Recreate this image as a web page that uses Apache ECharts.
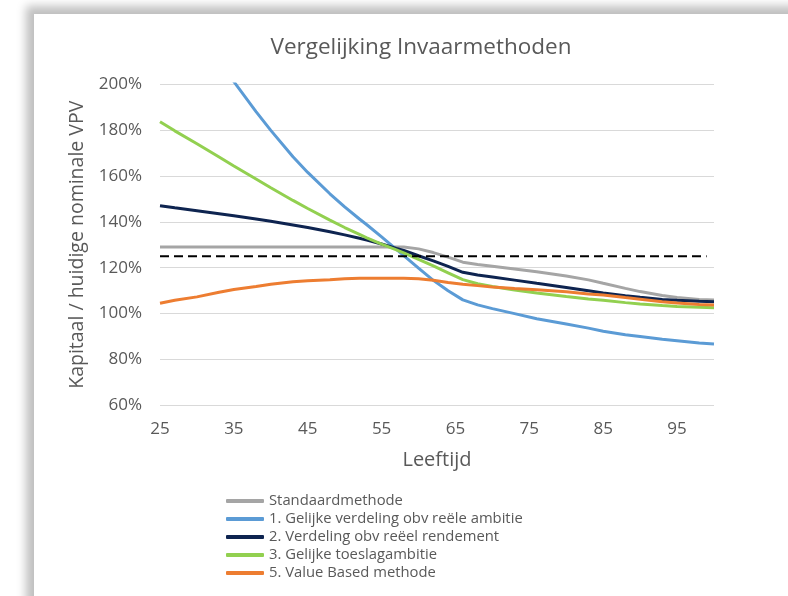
<!DOCTYPE html>
<html>
<head>
<meta charset="utf-8">
<script src="https://cdn.jsdelivr.net/npm/echarts@6/dist/echarts.min.js"></script>
<style>
  html, body { margin:0; padding:0; background:#fff; width:788px; height:596px; overflow:hidden; }
  #card { position:absolute; left:34px; top:14px; width:900px; height:700px; background:#fff;
          box-shadow:-6px -6px 9px 2px rgba(0,0,0,0.25); }
  #chart { position:absolute; left:0; top:0; width:788px; height:596px; }
</style>
</head>
<body>
<div id="card"></div>
<div id="chart"></div>
<script>
// ---- data ----
const ages = [25,27,30,33,35,38,40,43,45,48,50,52,53,55,57,58,60,62,64,66,68,70,73,76,80,83,85,88,90,93,95,98,100];
const seriesNames = [
  "Standaardmethode",
  "1. Gelijke verdeling obv reële ambitie",
  "2. Verdeling obv reëel rendement",
  "3. Gelijke toeslagambitie",
  "5. Value Based methode"
];
const standaard = [129,129,129,129,129,129,129,129,129,129,129,129,129,129,129,129,128.2,126.6,124.6,122.4,121.4,120.6,119.4,118.2,116.4,114.7,113.2,111,109.6,107.9,107,106.2,105.9];
const gelijkeVerdeling = [249,239,224,210,201,188,179.8,168.3,161.5,152.2,146.5,141.2,138.7,133.4,128,125.3,119.8,114.5,110,106,103.8,102.2,100,97.8,95.5,93.7,92.3,90.8,90,88.8,88.2,87.2,86.8];
const verdelingRendement = [147,146.1,144.8,143.5,142.6,141.2,140.2,138.6,137.5,135.7,134.3,132.8,132,130.3,128.4,127.5,125.2,123,120.6,118,116.8,116,114.6,113.2,111.4,110,109,107.8,107.1,106.2,105.8,105.4,105.2];
const toeslagambitie = [183.6,179.6,174,168.2,164.3,158.6,154.8,149.3,145.8,140.7,137.5,134.5,133,130.3,127.8,126.5,123.6,120.8,117.8,114.8,113,111.8,110.3,109,107.5,106.4,105.8,104.8,104.2,103.5,103.1,102.8,102.6];
const valueBased = [104.5,105.8,107.3,109.3,110.5,111.8,112.8,113.9,114.3,114.8,115.2,115.4,115.4,115.4,115.4,115.4,115.2,114.5,113.6,112.8,112.2,111.6,110.9,110.4,109.5,108.6,108.1,107,106.3,105.2,104.6,104,103.8];
const dashAges = [25, 99];
const dashLevel = 125;
const xTickLabels = [25,35,45,55,65,75,85,95];
const yMin = 60, yMax = 200, yStep = 20;
// ---- styles ----
const colors = ["#A5A5A5","#5B9BD5","#0E2450","#92D050","#ED7D31"];
const values = [standaard, gelijkeVerdeling, verdelingRendement, toeslagambitie, valueBased];
const txt = "#595959";
const font = "Open Sans";

const series = values.map((vals, i) => ({
  name: seriesNames[i],
  type: 'line',
  data: ages.map((a, j) => [a, vals[j]]),
  symbol: 'none',
  lineStyle: { color: colors[i], width: 3 },
  itemStyle: { color: colors[i] },
  clip: true,
  z: 2 + i
}));
series.push({
  name: 'dash',
  type: 'line',
  data: dashAges.map(a => [a, dashLevel]),
  symbol: 'none',
  lineStyle: { color: '#000', width: 2, type: [9, 5] },
  z: 10
});

const chart = echarts.init(document.getElementById('chart'), null, { renderer: 'canvas' });
chart.setOption({
  animation: false,
  backgroundColor: 'transparent',
  textStyle: { fontFamily: font },
  title: {
    text: 'Vergelijking Invaarmethoden',
    left: 416, top: 31, textAlign: 'center',
    textStyle: { color: txt, fontSize: 22.5, fontWeight: 'normal', fontFamily: font }
  },
  grid: { left: 160, top: 84, width: 554, height: 321.5, containLabel: false },
  xAxis: {
    type: 'value', min: 25, max: 100,
    name: 'Leeftijd', nameLocation: 'middle', nameGap: 45,
    nameTextStyle: { color: txt, fontSize: 20, fontFamily: font },
    axisLine: { show: false }, axisTick: { show: false }, splitLine: { show: false },
    axisLabel: { customValues: xTickLabels, color: txt, fontSize: 17, margin: 15, fontFamily: font }
  },
  yAxis: {
    type: 'value', min: yMin, max: yMax, interval: yStep,
    name: 'Kapitaal / huidige nominale VPV', nameLocation: 'middle', nameGap: 71,
    nameTextStyle: { color: txt, fontSize: 19.5, fontFamily: font },
    axisLine: { show: false }, axisTick: { show: false },
    splitLine: { lineStyle: { color: '#D9D9D9', width: 1 } },
    axisLabel: { formatter: '{value}%', color: txt, fontSize: 17, margin: 18, fontFamily: font }
  },
  legend: {
    data: seriesNames.map((n, i) => ({ name: n, icon: 'roundRect', itemStyle: { color: colors[i] } })),
    orient: 'vertical', left: 226, top: 492, padding: 0,
    itemWidth: 38, itemHeight: 4, itemGap: 0,
    textStyle: { color: txt, fontSize: 14.8, lineHeight: 18, fontFamily: font }
  },
  series: series
});
</script>
</body>
</html>
